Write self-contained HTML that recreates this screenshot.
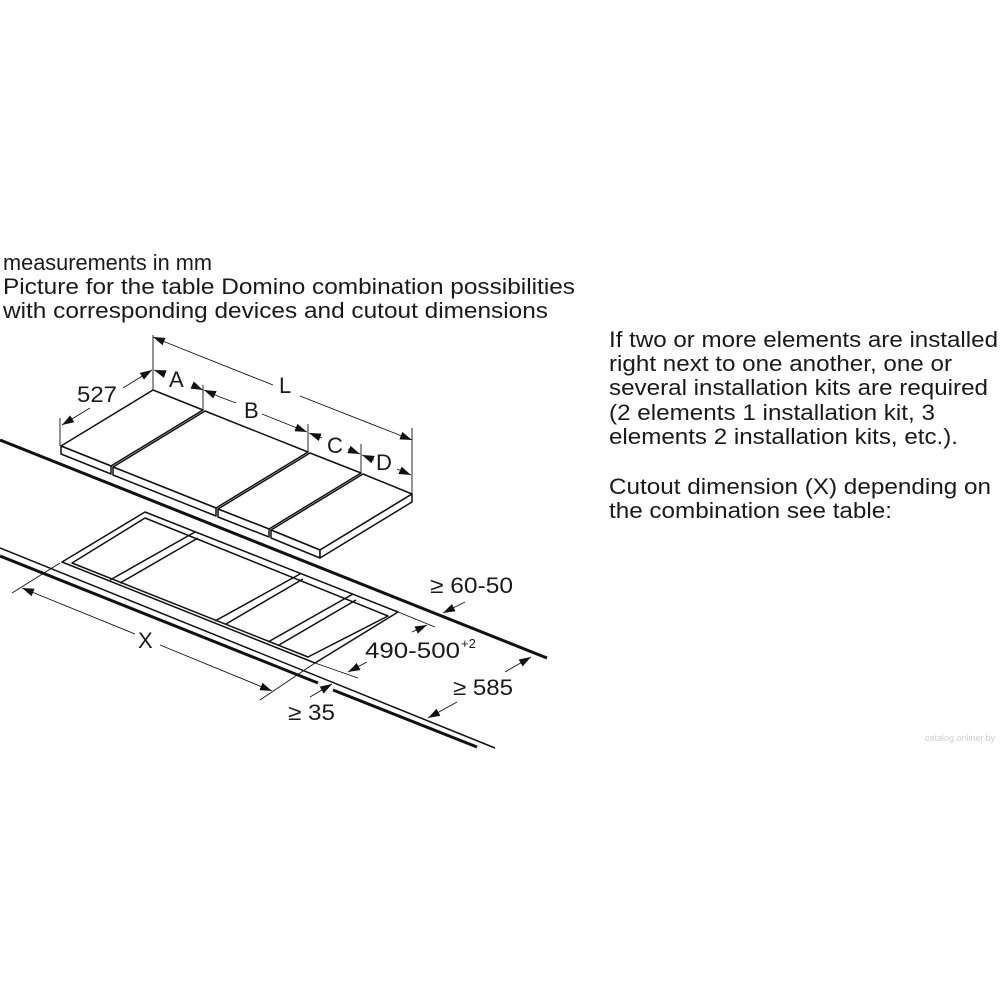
<!DOCTYPE html>
<html><head><meta charset="utf-8"><style>
html,body{margin:0;padding:0;background:#fff;}
svg{display:block;}
text{font-family:"Liberation Sans",Arial,sans-serif;fill:#1a1a1a;}
</style></head><body>
<svg width="1000" height="1000" viewBox="0 0 1000 1000" xmlns="http://www.w3.org/2000/svg">
<defs>
<marker id="ar" viewBox="0 0 12 8" refX="12" refY="4" markerWidth="12" markerHeight="8" markerUnits="userSpaceOnUse" orient="auto">
<path d="M0,0 L12,4 L0,8 z" fill="#111"/></marker>
</defs>
<g font-size="22" lengthAdjust="spacingAndGlyphs">
<text x="3" y="270" textLength="209" lengthAdjust="spacingAndGlyphs">measurements in mm</text>
<text x="3" y="294" textLength="572" lengthAdjust="spacingAndGlyphs">Picture for the table Domino combination possibilities</text>
<text x="3" y="318" textLength="545" lengthAdjust="spacingAndGlyphs">with corresponding devices and cutout dimensions</text>
<text x="609" y="347" textLength="389" lengthAdjust="spacingAndGlyphs">If two or more elements are installed</text>
<text x="609" y="371" textLength="343" lengthAdjust="spacingAndGlyphs">right next to one another, one or</text>
<text x="609" y="395" textLength="379" lengthAdjust="spacingAndGlyphs">several installation kits are required</text>
<text x="609" y="420" textLength="326" lengthAdjust="spacingAndGlyphs">(2 elements 1 installation kit, 3</text>
<text x="609" y="444" textLength="349" lengthAdjust="spacingAndGlyphs">elements 2 installation kits, etc.).</text>
<text x="609" y="494" textLength="382" lengthAdjust="spacingAndGlyphs">Cutout dimension (X) depending on</text>
<text x="609" y="518" textLength="283" lengthAdjust="spacingAndGlyphs">the combination see table:</text>
</g>
<g fill="none" stroke="#111" stroke-linejoin="round">
<line x1="0" y1="440" x2="547" y2="658" stroke-width="3"/>
<line x1="0" y1="548" x2="495" y2="748" stroke-width="1.5"/>
<line x1="0" y1="556" x2="318" y2="683" stroke-width="3"/>
<line x1="333" y1="690" x2="477" y2="747" stroke-width="3"/>
<g stroke-width="1.5" fill="#fff">
<polygon points="153,390 203,410 111,466 61,446"/>
<polygon points="61,446 111,466 111,474 61,454"/>
<polygon points="205,411 308,452 216,508 113,467"/>
<polygon points="113,467 216,508 216,516 113,475"/>
<polygon points="310,453 361,473 269,529 218,509"/>
<polygon points="218,509 269,529 269,537 218,517"/>
<polygon points="363,474 412,494 320,550 271,530"/>
<polygon points="271,530 320,550 320,558 271,538"/>
<polygon points="412,494 412,502 320,558 320,550"/>
</g>
<g stroke-width="1.5">
<polygon points="145,512 62,562 315,663 398,612"/>
<polygon points="145,518 72,563 308,657 388,616"/>
<line x1="195" y1="532" x2="110" y2="580"/>
<line x1="198" y1="538" x2="120" y2="583"/>
<line x1="300" y1="574" x2="215" y2="621"/>
<line x1="303" y1="579" x2="226" y2="624"/>
<line x1="353" y1="594" x2="268" y2="642"/>
<line x1="356" y1="600" x2="279" y2="645"/>
</g>
<g stroke-width="0.9">
<line x1="153" y1="335" x2="153" y2="390"/>
<line x1="412" y1="428" x2="412" y2="494"/>
<line x1="60" y1="418" x2="60" y2="446"/>
<line x1="203" y1="385" x2="203" y2="410"/>
<line x1="308" y1="424" x2="308" y2="452"/>
<line x1="361" y1="444" x2="361" y2="473"/>
<line x1="175" y1="346" x2="153" y2="337" marker-end="url(#ar)"/>
<line x1="175" y1="346" x2="273" y2="385"/>
<line x1="300" y1="396" x2="412" y2="440" marker-end="url(#ar)"/>
<line x1="90" y1="408" x2="62" y2="425" marker-end="url(#ar)"/>
<line x1="123" y1="388" x2="152" y2="370" marker-end="url(#ar)"/>
<line x1="165" y1="374" x2="154" y2="370" marker-end="url(#ar)"/>
<line x1="192" y1="385" x2="203" y2="390" marker-end="url(#ar)"/>
<line x1="220" y1="397" x2="204" y2="390" marker-end="url(#ar)"/>
<line x1="220" y1="397" x2="236" y2="403"/>
<line x1="262" y1="414" x2="307" y2="432" marker-end="url(#ar)"/>
<line x1="322" y1="438" x2="309" y2="433" marker-end="url(#ar)"/>
<line x1="348" y1="449" x2="360" y2="454" marker-end="url(#ar)"/>
<line x1="374" y1="460" x2="362" y2="455" marker-end="url(#ar)"/>
<line x1="397" y1="469" x2="411" y2="475" marker-end="url(#ar)"/>
<!-- X -->
<line x1="60" y1="563" x2="12" y2="593"/>
<line x1="315" y1="663" x2="260" y2="700"/>
<line x1="135" y1="634" x2="22" y2="588" marker-end="url(#ar)"/>
<line x1="160" y1="645" x2="272" y2="691" marker-end="url(#ar)"/>
<!-- 490-500 -->
<line x1="398" y1="612" x2="435" y2="627"/>
<line x1="315" y1="663" x2="358" y2="678"/>
<line x1="412" y1="632" x2="427" y2="625" marker-end="url(#ar)"/>
<line x1="367" y1="662" x2="348" y2="672" marker-end="url(#ar)"/>
<!-- 60-50 -->
<line x1="465" y1="602" x2="443" y2="613" marker-end="url(#ar)"/>
<!-- 585 -->
<line x1="505" y1="672" x2="531" y2="657" marker-end="url(#ar)"/>
<line x1="457" y1="702" x2="428" y2="718" marker-end="url(#ar)"/>
<!-- 35 -->
<line x1="310" y1="697" x2="332" y2="684" marker-end="url(#ar)"/>
</g>
</g>
<g font-size="22">
<text x="77" y="402" textLength="40" lengthAdjust="spacingAndGlyphs">527</text>
<text x="169" y="387">A</text>
<text x="279" y="393">L</text>
<text x="244" y="418">B</text>
<text x="327" y="453">C</text>
<text x="376" y="470">D</text>
<text x="138" y="648">X</text>
<text x="430" y="593" textLength="83" lengthAdjust="spacingAndGlyphs">≥ 60-50</text>
<text x="365" y="658" textLength="95" lengthAdjust="spacingAndGlyphs">490-500</text>
<text x="461" y="648" font-size="13">+2</text>
<text x="453" y="695" textLength="60" lengthAdjust="spacingAndGlyphs">≥ 585</text>
<text x="288" y="720" textLength="47" lengthAdjust="spacingAndGlyphs">≥ 35</text>
</g>
<text x="925" y="741" font-size="9" style="fill:#cfcfcf">catalog.onliner.by</text>
</svg>
</body></html>
